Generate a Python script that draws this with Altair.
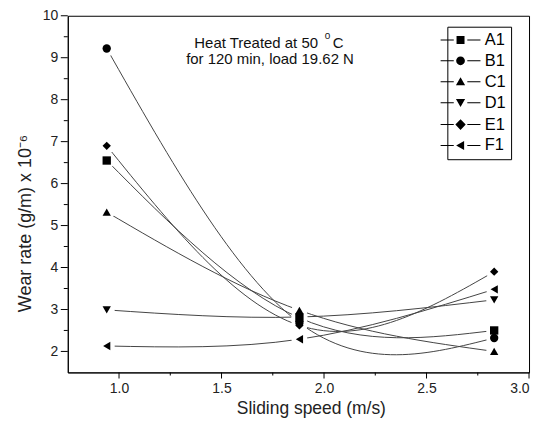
import altair as alt
import pandas as pd

series = ["A1", "B1", "C1", "D1", "E1", "F1"]
speed = [0.94, 1.88, 2.83]
wear_A1 = [6.55, 2.80, 2.50]
wear_B1 = [9.22, 2.68, 2.32]
wear_C1 = [5.32, 2.98, 2.00]
wear_D1 = [2.99, 2.82, 3.23]
wear_E1 = [6.90, 2.62, 3.90]
wear_F1 = [2.13, 2.29, 3.48]
x_ticks = [1.0, 1.5, 2.0, 2.5, 3.0]
x_minor = [1.25, 1.75, 2.25, 2.75]
y_ticks = [2, 3, 4, 5, 6, 7, 8, 9, 10]
y_minor = [2.5, 3.5, 4.5, 5.5, 6.5, 7.5, 8.5, 9.5]

wear = {"A1": wear_A1, "B1": wear_B1, "C1": wear_C1,
        "D1": wear_D1, "E1": wear_E1, "F1": wear_F1}
rows = []
for s in series:
    for x, y in zip(speed, wear[s]):
        rows.append({"series": s, "speed": x, "wear": y})
df = pd.DataFrame(rows)

W, H = 463, 358
FONT = "Liberation Sans"
shapes = ["square", "circle", "triangle-up", "triangle-down", "diamond", "triangle-left"]

stub = "M-5,-0.13H-1.7V0.13H-5ZM1.7,-0.13H5V0.13H1.7Z"
legend_paths = [
    stub + "M-1,-1H1V1H-1Z",
    stub + "M-1.1,0A1.1,1.1 0 1,0 1.1,0A1.1,1.1 0 1,0 -1.1,0Z",
    stub + "M0,-1.1L1.15,0.9H-1.15Z",
    stub + "M0,1.1L1.15,-0.9H-1.15Z",
    stub + "M0,-1.35L1.3,0L0,1.35L-1.3,0Z",
    stub + "M-1.1,0L0.9,-1.15V1.15Z",
]

xs = alt.Scale(domain=[0.75, 3.0], nice=False, zero=False)
ys = alt.Scale(domain=[1.5, 10], nice=False, zero=False)

major_x = alt.Axis(values=x_ticks, format=".1f", ticks=False, labelPadding=9,
                   domainColor="black",
                   title="Sliding speed (m/s)", titleFontSize=17.5, titleFont=FONT,
                   titleFontWeight="normal", titleX=244, titleY=27, grid=False)
major_y = alt.Axis(values=y_ticks, format="d", ticks=False, labelPadding=10,
                   domainColor="black",
                   title="Wear rate (g/m) x 10⁻⁶", titleFontSize=18, titleFont=FONT,
                   titleFontWeight="normal", titleX=-42, titleY=208,
                   titleBaseline="middle", grid=False)

base = alt.Chart(df)

lines = base.mark_line(interpolate="natural", color="#444", strokeWidth=1).encode(
    x=alt.X("speed:Q", scale=xs, axis=major_x),
    y=alt.Y("wear:Q", scale=ys, axis=major_y),
    detail="series:N",
)

halos = base.mark_point(filled=True, color="white", opacity=1, size=260, shape="circle").encode(
    x=alt.X("speed:Q", scale=xs),
    y=alt.Y("wear:Q", scale=ys),
)

points = base.mark_point(filled=True, color="black", opacity=1, size=70).encode(
    x=alt.X("speed:Q", scale=xs),
    y=alt.Y("wear:Q", scale=ys),
    shape=alt.Shape("series:N", scale=alt.Scale(domain=series, range=shapes), legend=None),
)

legend_layer = base.transform_filter("false").mark_point(
    filled=True, color="black", opacity=1, size=64
).encode(
    x=alt.X("speed:Q", scale=xs),
    y=alt.Y("wear:Q", scale=ys),
    shape=alt.Shape("series:N", scale=alt.Scale(domain=series, range=legend_paths),
                    legend=alt.Legend(
                        title=None, orient="none", legendX=381, legendY=11,
                        strokeColor="black", padding=5, symbolSize=64,
                        symbolFillColor="black", symbolOpacity=1,
                        labelFont=FONT, labelFontSize=16.5, labelColor="black",
                        labelOffset=16, rowPadding=4)),
)

# axis tick marks drawn from the tick lists (outward)
ytick_major = alt.Chart(pd.DataFrame({"v": y_ticks})).mark_tick(
    color="black", thickness=1, size=7, orient="horizontal", opacity=1).encode(
    y=alt.Y("v:Q", scale=ys), x=alt.value(-3.5))
ytick_minor = alt.Chart(pd.DataFrame({"v": y_minor})).mark_tick(
    color="black", thickness=1, size=4, orient="horizontal", opacity=1).encode(
    y=alt.Y("v:Q", scale=ys), x=alt.value(-2))
xtick_major = alt.Chart(pd.DataFrame({"v": x_ticks})).mark_tick(
    color="black", thickness=1, size=6, orient="vertical", opacity=1).encode(
    x=alt.X("v:Q", scale=xs), y=alt.value(H + 3))
xtick_minor = alt.Chart(pd.DataFrame({"v": x_minor})).mark_tick(
    color="black", thickness=1, size=3, orient="vertical", opacity=1).encode(
    x=alt.X("v:Q", scale=xs), y=alt.value(H + 1.5))

ann_df = pd.DataFrame({"t": ["x"]})
ann1 = alt.Chart(ann_df).mark_text(font=FONT, fontSize=15, align="left", baseline="middle", color="#111").encode(
    text=alt.value("Heat Treated at 50"), x=alt.value(127), y=alt.value(27))
ann_sup = alt.Chart(ann_df).mark_text(font=FONT, fontSize=10, align="left", baseline="middle", color="#111").encode(
    text=alt.value("0"), x=alt.value(258), y=alt.value(20))
ann_c = alt.Chart(ann_df).mark_text(font=FONT, fontSize=15, align="left", baseline="middle", color="#111").encode(
    text=alt.value("C"), x=alt.value(266), y=alt.value(27))
ann2 = alt.Chart(ann_df).mark_text(font=FONT, fontSize=15, align="center", baseline="middle", color="#111").encode(
    text=alt.value("for 120 min, load 19.62 N"), x=alt.value(203), y=alt.value(43))

chart = alt.layer(
    lines, halos, points, legend_layer,
    ytick_major, ytick_minor, xtick_major, xtick_minor,
    ann1, ann_sup, ann_c, ann2,
).resolve_scale(shape="independent").properties(
    width=W, height=H,
    padding={"left": 9, "top": 0, "right": 5, "bottom": 5},
    background="white",
).configure_view(stroke="black", strokeWidth=1).configure_axis(
    labelFont=FONT, labelFontSize=14, labelColor="#222",
    domainColor="black", titleColor="#222",
)

chart.save("out.html", embed_options={"renderer": "svg", "actions": False})
